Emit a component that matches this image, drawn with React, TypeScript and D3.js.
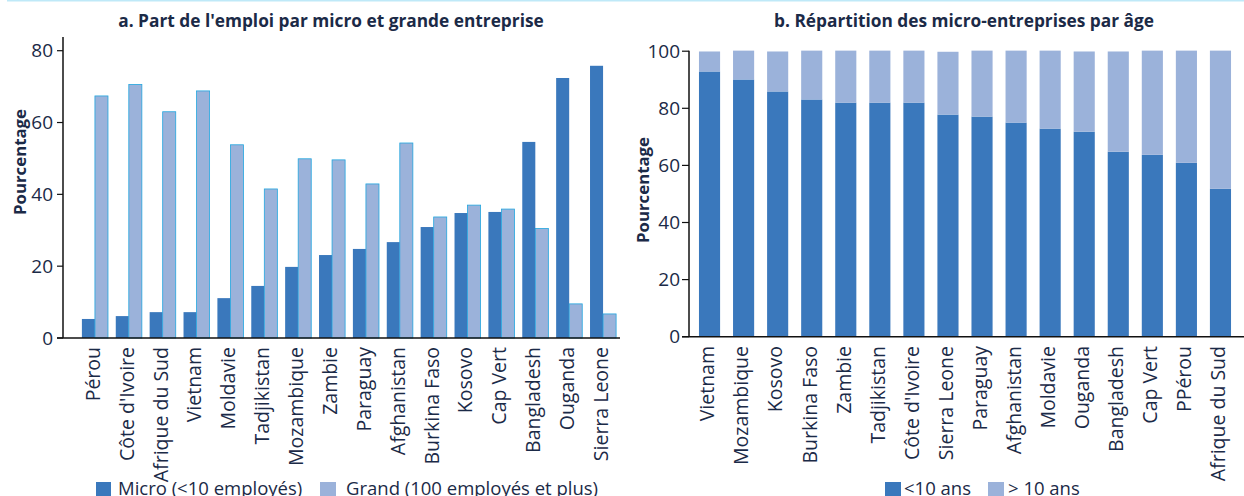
import React from "react";
import * as d3 from "d3";

const countriesA = ["Pérou", "Côte d'Ivoire", "Afrique du Sud", "Vietnam", "Moldavie", "Tadjikistan", "Mozambique", "Zambie", "Paraguay", "Afghanistan", "Burkina Faso", "Kosovo", "Cap Vert", "Bangladesh", "Ouganda", "Sierra Leone"];
const microA = [5.3, 6.1, 7.2, 7.2, 11.1, 14.5, 19.8, 23.1, 24.8, 26.7, 30.9, 34.8, 35.1, 54.6, 72.4, 75.8];
const grandA = [67.4, 70.6, 63.0, 68.8, 53.8, 41.5, 49.9, 49.6, 42.9, 54.3, 33.7, 37.0, 35.9, 30.5, 9.5, 6.7];
const ticksA = [0, 20, 40, 60, 80];

const countriesB = ["Vietnam", "Mozambique", "Kosovo", "Burkina Faso", "Zambie", "Tadjikistan", "Côte d'Ivoire", "Sierra Leone", "Paraguay", "Afghanistan", "Moldavie", "Ouganda", "Bangladesh", "Cap Vert", "PPérou", "Afrique du Sud"];
const youngB = [92.9, 90.1, 85.9, 83.1, 82.0, 82.0, 82.0, 77.8, 77.1, 75.0, 72.9, 71.8, 64.8, 63.7, 60.9, 51.8];
const oldB = [7.0, 10.1, 14.0, 17.1, 18.2, 18.2, 18.2, 22.0, 23.1, 25.2, 27.3, 28.1, 35.1, 36.5, 39.3, 48.4];
const ticksB = [0, 20, 40, 60, 80, 100];

const DARK = "#3a78bc";
const LIGHT = "#9bb2da";
const TEXT = "#1b2a47";
const FONT = "'Open Sans', sans-serif";

export default function App() {
  // Panel A
  const xA = d3.scaleBand<string>().domain(countriesA).range([78, 620]).paddingInner(0.23).paddingOuter(0.115);
  const yA = d3.scaleLinear().domain([0, 80]).range([338, 50.7]);
  const bwA = xA.bandwidth() / 2;

  // Panel B
  const xB = d3.scaleBand<string>().domain(countriesB).range([692.5, 1237.5]).paddingInner(0.38).paddingOuter(0.19);
  const yB = d3.scaleLinear().domain([0, 100]).range([336.7, 51.2]);

  return (
    <svg width={1244} height={496} style={{ position: "absolute", left: 0, top: 0, fontFamily: FONT }}>
      <line x1={7} x2={1244} y1={0.5} y2={0.5} stroke="#bfe9f8" strokeWidth={2} />

      {/* Panel A */}
      <text x={331} y={27} textAnchor="middle" fontSize={17.3} fontWeight="bold" fill={TEXT}>a. Part de l'emploi par micro et grande entreprise</text>
      <text transform={`translate(26,162) rotate(-90)`} textAnchor="middle" fontSize={16.8} fontWeight="bold" fill={TEXT}>Pourcentage</text>
      {countriesA.map((c, i) => {
        const x0 = xA(c)!;
        return (
          <g key={c}>
            <rect x={x0} y={yA(microA[i])} width={bwA} height={yA(0) - yA(microA[i])} fill={DARK} />
            <rect x={x0 + bwA} y={yA(grandA[i])} width={bwA} height={yA(0) - yA(grandA[i])} fill={LIGHT} stroke="#22a6df" strokeWidth={0.8} />
            <text transform={`translate(${x0 + xA.bandwidth() / 2 - 2},347) rotate(-90)`} textAnchor="end" dy="0.35em" fontSize={19.5} fill={TEXT}>{c}</text>
          </g>
        );
      })}
      <line x1={63} x2={63} y1={37} y2={338} stroke="#111" strokeWidth={1.5} />
      <line x1={57} x2={620} y1={338} y2={338} stroke="#111" strokeWidth={1.5} />
      {ticksA.map((t) => (
        <g key={t}>
          <line x1={57} x2={63} y1={yA(t)} y2={yA(t)} stroke="#111" strokeWidth={1.2} />
          <text x={53} y={yA(t)} dy="0.35em" textAnchor="end" fontSize={19} fill={TEXT}>{t}</text>
        </g>
      ))}
      <rect x={96} y={482} width={15} height={14} fill={DARK} />
      <text x={118} y={495} fontSize={18.5} fill={TEXT}>Micro (&lt;10 employés)</text>
      <rect x={320} y={482} width={16} height={14} fill={LIGHT} />
      <text x={346} y={495} fontSize={18.5} fill={TEXT}>Grand (100 employés et plus)</text>

      {/* Panel B */}
      <text x={964} y={27} textAnchor="middle" fontSize={17.3} fontWeight="bold" fill={TEXT}>b. Répartition des micro-entreprises par âge</text>
      <text transform={`translate(649,190) rotate(-90)`} textAnchor="middle" fontSize={16.8} fontWeight="bold" fill={TEXT}>Pourcentage</text>
      {countriesB.map((c, i) => {
        const x0 = xB(c)!;
        const bw = xB.bandwidth();
        return (
          <g key={c}>
            <rect x={x0} y={yB(youngB[i])} width={bw} height={yB(0) - yB(youngB[i])} fill={DARK} />
            <rect x={x0} y={yB(youngB[i] + oldB[i])} width={bw} height={yB(youngB[i]) - yB(youngB[i] + oldB[i])} fill={LIGHT} />
            <text transform={`translate(${x0 + bw / 2 - 2},346) rotate(-90)`} textAnchor="end" dy="0.35em" fontSize={19.5} fill={TEXT}>{c}</text>
          </g>
        );
      })}
      <line x1={689} x2={689} y1={50.7} y2={336.7} stroke="#111" strokeWidth={1.5} />
      <line x1={682} x2={1244} y1={336.7} y2={336.7} stroke="#111" strokeWidth={1.5} />
      {ticksB.map((t) => (
        <g key={t}>
          <line x1={682} x2={689} y1={yB(t)} y2={yB(t)} stroke="#111" strokeWidth={1.2} />
          <text x={680} y={yB(t)} dy="0.35em" textAnchor="end" fontSize={19} fill={TEXT}>{t}</text>
        </g>
      ))}
      <rect x={885} y={482} width={16} height={14} fill={DARK} />
      <text x={904} y={495} fontSize={18.5} fill={TEXT}>&lt;10 ans</text>
      <rect x={988} y={482} width={16} height={14} fill={LIGHT} />
      <text x={1008} y={495} fontSize={18.5} fill={TEXT}>&gt; 10 ans</text>
    </svg>
  );
}
